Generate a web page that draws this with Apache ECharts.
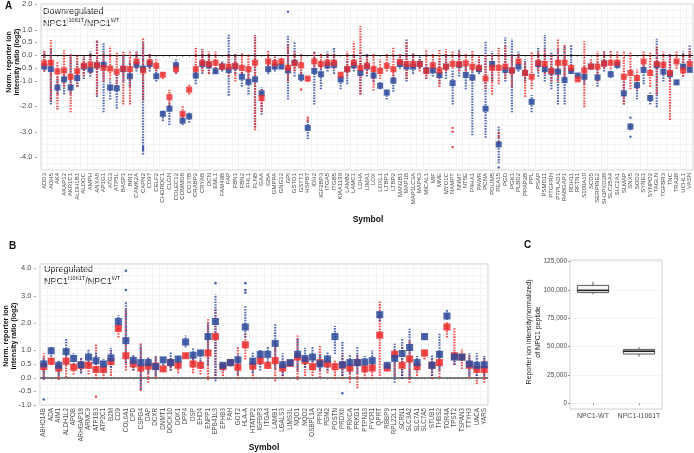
<!DOCTYPE html>
<html><head><meta charset="utf-8">
<script src="https://cdn.jsdelivr.net/npm/echarts@6/dist/echarts.min.js"></script>
<style>html,body{margin:0;padding:0;background:#fff}#c{width:694px;height:453px}</style>
</head><body><div id="c"></div>
<script>
// ---------- Panel A: downregulated ----------
const catsA = ['ADD3','ADH5','AK4','AKAP12','AKR1C1','ALDH1B1','ALDOC','AMPH','ANXA5','AP1G1','ATG3','ATP5L','BASP1','BIN1','CAMK2A','CAPN2','CD97','CELF2','CHORDC1','CLGN','COLEC12','COMMD8','COX7B','CRABP2','CRYAB','DCN','EML1','FAM49B','FAP','FBN1','FBN2','FHL1','FLNB','GAA','GBA','GMPPA','GNG12','GPI','GSTO1','GSTT1','HSPB7','IDH2','IGF2BP3','ITGA5','ITGB5','KIAA1199','LAMB2','LAMC1','LDHA','LIMA1','LOX','LOXL1','LTBP1','LTBP2','MAN2B1','MAP1B','MAP1LC3A','MAPK3','MICAL1','MIF','MME','MYO1C','NAMPT','NNMT','NT5E','P4HA1','PAWR','PCNA','PDLIM5','PEA15','PGD','PGK1','PLBD2','PPAP2B','PPL','PSAP','PSMD11','PTGFRN','PTPLAD1','RABGAP1','RDH11','RFTN1','S100A10','SCD5','SERPINE2','SH3PXD2B','SLC25A4','SLC2A1','SLMAP','SNX5','SOD2','SYNE1','SYNPO2','TAGLN','TGFBR3','TNC','TRA2B','UCHL1','VASN'];
const blueMedA = [-0.45,-0.55,-1.27,-0.95,-1.27,-0.9,-0.45,-0.57,-0.4,-0.38,-1.27,-1.3,-0.55,-0.83,-0.38,-0.53,-0.35,-0.83,-2.3,-2.1,-0.4,-2.57,-2.4,-0.8,-0.35,-0.4,-0.63,-0.45,-0.58,-0.45,-0.85,-1.05,-0.95,-1.5,-0.55,-0.45,-0.45,-0.6,-0.3,-0.87,-2.85,-0.62,-0.75,-0.4,-0.38,-0.95,-0.55,-0.4,-0.7,-0.45,-0.8,-1.2,-1.47,-1.0,-0.35,-0.45,-0.45,-0.35,-0.6,-0.6,-0.78,-0.45,-1.1,-0.38,-0.78,-0.88,-0.55,-2.1,-0.35,-3.5,-0.58,-0.6,-0.45,-0.7,-1.83,-0.35,-0.55,-0.65,-0.65,-0.98,-0.62,-0.8,-0.85,-0.45,-0.88,-0.33,-0.75,-0.38,-1.5,-2.8,-1.18,-0.58,-1.68,-0.4,-0.65,-0.75,-1.07,-0.45,-0.58];
const redMedA = [-0.32,-0.3,-0.64,-0.6,-0.85,-0.63,-0.42,-0.37,-0.4,-0.5,-0.53,-0.65,-0.53,-0.55,-0.25,-0.6,-0.28,-0.42,-0.77,-1.65,-0.55,-2.3,-1.35,-0.55,-0.3,-0.35,-0.3,-0.45,-0.45,-0.42,-0.5,-0.55,-0.3,-1.68,-0.25,-0.32,-0.25,-0.5,-0.32,-0.4,-0.92,-0.25,-0.35,-0.3,-0.3,-0.77,-0.55,-0.3,-0.5,-0.42,-0.55,-0.62,-0.42,-0.55,-0.27,-0.35,-0.35,-0.35,-0.62,-0.4,-0.6,-0.45,-0.35,-0.35,-0.32,-0.45,-0.5,-0.92,-0.5,-0.5,-0.45,-0.6,-0.25,-0.7,-0.85,-0.3,-0.35,-0.62,-0.3,-0.3,-0.5,-0.95,-0.6,-0.45,-0.45,-0.33,-0.3,-0.3,-0.85,-0.7,-0.9,-0.25,-0.7,-0.35,-0.38,-0.7,-0.25,-0.6,-0.35];
const blueLoA = [-0.6,-1.9,-1.5,-1.5,-1.5,-1.2,-0.9,-0.8,-1.6,-2.2,-1.7,-2.05,-1.0,-1.2,-0.6,-3.85,-0.6,-1.0,-2.55,-2.7,-0.7,-2.7,-2.6,-1.1,-0.7,-0.7,-0.7,-0.6,-1.55,-0.7,-1.2,-1.5,-2.8,-2.3,-0.7,-0.6,-0.5,-1.7,-0.8,-1.0,-3.25,-1.9,-1.3,-0.6,-0.7,-1.3,-1.1,-0.6,-1.5,-0.8,-1.0,-1.3,-1.7,-1.4,-0.5,-1.0,-0.7,-0.5,-0.9,-0.8,-1.1,-0.9,-1.9,-0.8,-1.3,-3.1,-0.7,-3.2,-1.0,-4.2,-1.0,-2.2,-0.6,-1.0,-2.2,-0.8,-1.0,-1.3,-1.9,-1.9,-0.7,-0.9,-1.1,-0.5,-1.2,-0.6,-0.85,-0.5,-1.9,-2.9,-1.7,-1.1,-1.9,-2.0,-1.0,-1.0,-1.1,-0.8,-0.6];
const blueHiA = [0.1,0.2,-0.9,-0.6,0.0,-0.3,-0.1,0.1,0.55,0.45,-1.0,-0.7,0.0,-0.3,0.1,0.45,0.0,-0.6,-2.2,-1.9,-0.2,-2.4,-2.3,-0.6,0.2,0.0,-0.5,-0.3,0.8,0.0,-0.7,-0.6,0.75,-1.3,-0.1,-0.2,-0.3,0.75,0.5,-0.6,-2.6,0.1,-0.2,0.1,0.25,-0.9,-0.2,0.0,0.1,0.0,-0.5,-1.1,-1.4,-0.8,-0.1,0.6,0.05,-0.1,-0.4,-0.3,-0.2,0.0,-0.6,0.2,-0.4,-0.5,-0.2,0.5,0.1,-2.8,0.65,0.6,0.1,-0.2,-1.6,0.3,0.75,0.05,0.2,0.3,0.35,-0.75,-0.5,-0.4,-0.3,0.1,-0.6,-0.3,-1.0,-2.7,-0.9,-0.4,-1.5,0.6,-0.3,0.0,-1.0,0.1,0.35];
const redLoA = [-0.6,-1.75,-2.1,-1.2,-2.2,-1.2,-0.8,-0.7,-1.5,-1.0,-0.9,-1.2,-1.9,-1.9,-0.5,-1.7,-0.5,-0.6,-0.9,-2.0,-0.7,-2.45,-1.5,-0.8,-0.6,-0.7,-0.6,-0.55,-0.8,-1.0,-0.7,-1.0,-2.9,-2.2,-0.6,-0.5,-0.35,-1.0,-0.6,-0.7,-1.0,-0.55,-0.5,-0.5,-0.5,-0.85,-0.8,-0.5,-1.5,-0.7,-1.35,-0.9,-0.6,-0.9,-0.4,-0.9,-0.5,-0.6,-0.9,-0.6,-1.2,-0.6,-0.5,-0.6,-0.6,-0.6,-0.6,-1.3,-1.5,-1.1,-0.9,-1.2,-0.4,-1.6,-1.3,-0.6,-0.7,-1.0,-1.0,-0.9,-0.6,-1.0,-2.0,-0.5,-1.0,-0.5,-0.5,-0.4,-1.9,-1.3,-1.3,-0.5,-1.2,-1.5,-0.7,-2.5,-0.5,-0.8,-0.6];
const redHiA = [0.15,0.55,-0.3,0.15,0.05,0.0,-0.1,0.0,0.55,0.1,0.3,0.1,0.1,0.15,0.1,0.65,0.0,-0.2,-0.7,-1.4,-0.4,-2.0,-1.2,0.3,0.2,0.1,0.1,-0.3,0.0,0.0,0.05,0.0,0.75,-1.4,0.15,-0.1,-0.15,0.4,0.1,0.0,-0.9,0.1,0.05,0.0,0.0,-0.7,0.1,0.5,1.1,-0.1,0.0,-0.2,0.0,0.25,0.0,0.5,0.0,-0.2,0.2,0.0,0.2,0.2,0.1,0.1,0.0,0.15,-0.1,0.0,0.0,0.25,0.35,0.0,0.0,-0.3,0.1,0.1,0.2,0.0,0.6,0.4,-0.4,-0.9,0.5,-0.2,0.1,0.1,0.15,0.1,0.15,0.1,-0.6,0.1,0.1,0.3,0.1,0.0,0.1,0.0,0.2];
const blueOutA = [['GPI',1.7],['CAPN2',-3.6],['CAPN2',-3.7],['SNX5',-2.45],['SNX5',-3.2],['PEA15',-4.4]];
const redOutA = [['GSTT1',-1.35],['HSPB7',-2.45],['HSPB7',-2.55],['NAMPT',-2.85],['NAMPT',-3.0],['NAMPT',-3.6],['PEA15',-3.05],['PEA15',-3.2],['PEA15',-3.4]];
const labelsA = [2,1,0.5,0,-0.5,-1,-2,-3,-4];

// ---------- Panel B: upregulated ----------
const catsB = ['ABHD14B','ADA','AIM1','ALDH1L2','APOB','ARHGAP18','ARMC9','ATP1B3','ATP2C1','B2M','CD9','COL6A1','CPD','CSPG4','DAP','DCXR','DNMT1','DOCK10','DOK1','DPP4','DSP','EHD4','ENPP1','EPB41L3','EPHB3','FAH','GOT2','HLA-A','HTATIP2','IGFBP3','ITGA4','LAMB1','LGALS3','LIMS3L','NQO1','NQO2','OSBPL1A','PFN2','PGM2','POSTN','PRDX6','PRKCA','PRKG1','PTPN13','PYCR1','QPRT','RBBP9','RPL22L1','SCRN1','SLC3A2','SLC7A1','SLC7A5','STUB1','THBS2','TOR4A','TPST2','TSPAN3','TTYH3','UACA','YARS'];
const blueMedB = [0.5,0.98,0.45,0.95,0.7,0.47,0.75,0.62,0.5,0.72,2.05,1.35,0.63,0.55,0.55,0.4,0.65,0.55,0.68,1.3,0.82,0.9,1.5,2.05,0.45,0.55,0.65,1.85,0.6,0.85,0.85,1.25,0.47,0.55,0.85,0.7,0.75,0.5,0.68,1.5,0.47,0.55,0.55,0.57,0.62,2.3,0.45,0.7,0.88,1.1,0.55,1.5,0.45,0.85,2.25,0.75,0.75,0.5,0.45,0.47];
const redMedB = [0.4,0.6,0.35,0.6,0.38,0.45,0.45,0.3,0.3,0.58,1.8,0.8,0.5,0.35,0.42,0.42,0.32,0.55,0.45,0.8,0.5,0.45,0.9,1.5,0.4,0.55,0.38,1.2,0.42,0.62,0.45,0.62,0.35,0.52,0.75,0.62,0.4,0.55,0.5,0.4,0.45,0.35,0.55,0.32,0.35,1.55,0.35,0.85,0.45,0.68,0.4,0.9,0.45,0.55,1.85,0.8,0.75,0.45,0.3,0.3];
const blueLoB = [-0.05,0.8,0.1,0.5,0.5,0.2,0.5,0.3,0.2,0.4,1.8,0.55,0.3,-0.4,0.2,0.1,0.5,0.3,0.4,1.15,0.55,0.6,0.5,-0.1,0.3,0.45,0.15,1.5,0.2,0.3,0.6,0.35,0.1,0.45,0.3,0.4,0.6,0.3,0.3,0.9,0.1,0.2,0.2,0.3,0.3,2.1,0.4,-0.15,0.0,0.0,0.3,1.4,0.1,0.3,2.15,0.5,0.7,0.1,0.0,0.1];
const blueHiB = [0.7,1.1,0.6,1.4,0.85,0.7,1.0,0.9,0.65,1.05,2.25,2.75,0.8,1.15,0.7,0.75,0.7,0.9,0.75,1.5,1.05,1.0,1.95,3.0,0.45,0.6,0.8,2.6,0.9,1.0,1.1,1.95,0.85,0.6,1.4,1.05,1.1,0.8,0.9,1.85,1.3,0.8,1.1,0.75,0.95,2.4,0.5,1.2,1.4,1.75,0.75,1.55,0.82,1.6,2.45,0.9,0.8,0.85,0.85,0.75];
const redLoB = [0.0,0.5,-0.05,0.05,0.15,0.2,0.15,0.0,0.0,0.1,1.5,0.3,0.3,-0.45,-0.15,0.05,0.25,0.3,0.2,0.75,0.2,0.15,-0.05,0.0,0.1,0.45,0.0,0.7,0.0,0.5,0.35,-0.1,0.0,0.45,-0.05,0.1,0.1,0.05,0.2,0.0,0.0,-0.15,-0.35,0.0,0.0,0.1,0.3,0.1,0.0,-0.15,0.1,0.7,0.0,0.05,1.5,0.5,0.35,0.05,-0.2,-0.15];
const redHiB = [0.85,0.7,0.5,1.05,0.45,0.7,0.6,1.2,0.5,1.0,2.1,2.5,0.7,1.25,0.7,0.75,0.4,0.7,0.6,0.85,0.75,0.6,2.1,2.45,0.45,0.6,1.1,1.6,0.7,0.8,0.5,1.3,0.6,0.6,1.5,0.7,0.7,1.12,0.7,0.6,0.85,0.6,0.8,0.5,0.7,2.75,0.4,1.0,1.1,1.35,0.6,1.0,0.7,0.9,2.0,1.8,1.0,0.8,0.5,0.7];
const blueOutB = [['ABHD14B',-0.8],['COL6A1',3.9],['COL6A1',3.2],['EPB41L3',3.45],['HLA-A',3.45],['HLA-A',3.2],['HLA-A',3.1],['PRDX6',-0.57]];
const redOutB = [['ATP1B3',-0.7]];
const labelsB = [4,3,2,1,0.5,0,-0.5,-1];

// ---------- Panel C: NPC1 reporter ion intensity ----------
const catsC = ['NPC1-WT','NPC1-I1061T'];
const boxMinC = [96200,41200];
const boxQ1C  = [97700,43500];
const boxMedC = [99700,46000];
const boxQ3C  = [104100,47600];
const boxMaxC = [107300,49400];
const labelsC = [0,25000,50000,75000,100000,125000];

const BLUE = '#2c4a9c', RED = '#ee2a2a';
const FONT = '"Liberation Sans", Arial, Helvetica, sans-serif';
const chart = echarts.init(document.getElementById('c'), null, {renderer:'canvas'});

function rangeRender(color){
  return function(params, api){
    const x = api.value(0);
    const p1 = api.coord([x, api.value(1)]);
    const p2 = api.coord([x, api.value(2)]);
    return {type:'line', shape:{x1:p1[0], y1:p1[1]+1, x2:p2[0], y2:p2[1]-1},
      style:{stroke:color, lineWidth:2.2, lineDash:[1.6,1.1], opacity:0.8}};
  };
}
function rangeData(cats, lo, hi){ return cats.map((c,i)=>[i, lo[i], hi[i]]); }
function medData(cats, v){ return cats.map((c,i)=>[c, v[i]]); }
function isLabel(list, v){ return list.some(t => Math.abs(t - v) < 1e-6); }

const catAxis = (idx, cats, fs) => ({
  type:'category', gridIndex:idx, data:cats, boundaryGap:true,
  axisLine:{show:false},
  axisTick:{show:true, alignWithLabel:true, length:2, lineStyle:{color:'#555', width:0.6}},
  axisLabel:{interval:0, rotate:90, fontSize:fs, color:'#4d4d4d', fontFamily:FONT, margin:3},
  splitLine:{show:true, interval:0, lineStyle:{color:'#ececec', width:0.6}}
});

const option = {
  animation:false,
  backgroundColor:'#fff',
  grid:[
    {left:41, top:3, width:652, height:167, show:true, borderColor:'#c4c4c4', borderWidth:0.8, backgroundColor:'#fff'},
    {left:40, top:264, width:448, height:141, show:true, borderColor:'#c4c4c4', borderWidth:0.8, backgroundColor:'#fff'},
    {left:570, top:260, width:92, height:149, show:true, borderColor:'#c4c4c4', borderWidth:0.8, backgroundColor:'#fff'}
  ],
  xAxis:[
    catAxis(0, catsA, 6),
    catAxis(1, catsB, 6.3),
    {type:'category', gridIndex:2, data:catsC, boundaryGap:true,
      axisLine:{show:false},
      axisTick:{show:true, alignWithLabel:true, length:2, lineStyle:{color:'#555', width:0.6}},
      axisLabel:{interval:0, fontSize:7, color:'#4d4d4d', fontFamily:FONT, margin:4},
      splitLine:{show:false}}
  ],
  yAxis:[
    {type:'value', gridIndex:0, min:-4.5, max:2.0, interval:0.25,
      axisLine:{show:false}, axisTick:{show:false},
      axisLabel:{fontSize:7.5, color:'#4d4d4d', fontFamily:FONT, margin:4, showMinLabel:false,
        formatter:v => isLabel(labelsA, v) ? (v).toFixed(1) + ' -' : ''},
      splitLine:{show:true, lineStyle:{color:'#ececec', width:0.6}}},
    {type:'value', gridIndex:1, min:-1.0, max:4.15, interval:0.25,
      axisLine:{show:false}, axisTick:{show:false},
      axisLabel:{fontSize:7.5, color:'#4d4d4d', fontFamily:FONT, margin:4,
        formatter:v => isLabel(labelsB, v) ? (v).toFixed(1) + ' -' : ''},
      splitLine:{show:true, lineStyle:{color:'#ececec', width:0.6}}},
    {type:'value', gridIndex:2, min:-5000, max:126500,
      axisLine:{show:false},
      axisTick:{show:true, length:2, customValues:labelsC, lineStyle:{color:'#555', width:0.6}},
      axisLabel:{fontSize:6.5, color:'#4d4d4d', fontFamily:FONT, margin:3, customValues:labelsC},
      splitLine:{show:true, lineStyle:{color:'#ececec', width:0.6}}}
  ],
  series:[
    // Panel A
    {type:'custom', xAxisIndex:0, yAxisIndex:0, renderItem:rangeRender(BLUE), data:rangeData(catsA, blueLoA, blueHiA), silent:true, z:2,
      markLine:{silent:true, symbol:'none', label:{show:false}, lineStyle:{color:'#111', width:1, type:'solid'}, data:[{yAxis:0}], z:1}},
    {type:'custom', xAxisIndex:0, yAxisIndex:0, renderItem:rangeRender(RED), data:rangeData(catsA, redLoA, redHiA), silent:true, z:3},
    {type:'scatter', xAxisIndex:0, yAxisIndex:0, data:blueOutA, symbol:'circle', symbolSize:2.4, itemStyle:{color:BLUE, opacity:0.85}, z:3},
    {type:'scatter', xAxisIndex:0, yAxisIndex:0, data:redOutA, symbol:'circle', symbolSize:2.4, itemStyle:{color:RED, opacity:0.85}, z:3},
    {type:'scatter', xAxisIndex:0, yAxisIndex:0, data:medData(catsA, blueMedA), symbol:'rect', symbolSize:6, itemStyle:{color:BLUE, opacity:0.85}, z:4},
    {type:'scatter', xAxisIndex:0, yAxisIndex:0, data:medData(catsA, redMedA), symbol:'rect', symbolSize:6, itemStyle:{color:RED, opacity:0.8}, z:5},
    // Panel B
    {type:'custom', xAxisIndex:1, yAxisIndex:1, renderItem:rangeRender(RED), data:rangeData(catsB, redLoB, redHiB), silent:true, z:2,
      markLine:{silent:true, symbol:'none', label:{show:false}, lineStyle:{color:'#7a7a7a', width:2, type:'solid'}, data:[{yAxis:0}], z:1}},
    {type:'custom', xAxisIndex:1, yAxisIndex:1, renderItem:rangeRender(BLUE), data:rangeData(catsB, blueLoB, blueHiB), silent:true, z:3},
    {type:'scatter', xAxisIndex:1, yAxisIndex:1, data:blueOutB, symbol:'circle', symbolSize:2.6, itemStyle:{color:BLUE, opacity:0.85}, z:3},
    {type:'scatter', xAxisIndex:1, yAxisIndex:1, data:redOutB, symbol:'circle', symbolSize:2.6, itemStyle:{color:RED, opacity:0.85}, z:3},
    {type:'scatter', xAxisIndex:1, yAxisIndex:1, data:medData(catsB, redMedB), symbol:'rect', symbolSize:7, itemStyle:{color:RED, opacity:0.85}, z:4},
    {type:'scatter', xAxisIndex:1, yAxisIndex:1, data:medData(catsB, blueMedB), symbol:'rect', symbolSize:7, itemStyle:{color:BLUE, opacity:0.85}, z:5},
    // Panel C
    {type:'custom', xAxisIndex:2, yAxisIndex:2, silent:true,
      data:catsC.map((c,i)=>[i, boxMinC[i], boxQ1C[i], boxMedC[i], boxQ3C[i], boxMaxC[i]]),
      renderItem:function(params, api){
        const x = api.value(0);
        const lo = api.coord([x, api.value(1)]), q1 = api.coord([x, api.value(2)]),
              md = api.coord([x, api.value(3)]), q3 = api.coord([x, api.value(4)]), hi = api.coord([x, api.value(5)]);
        const w = api.size([1,0])[0]*0.68;
        const s = {stroke:'#333', lineWidth:0.8};
        return {type:'group', children:[
          {type:'line', shape:{x1:lo[0], y1:lo[1], x2:lo[0], y2:q1[1]}, style:s},
          {type:'line', shape:{x1:hi[0], y1:q3[1], x2:hi[0], y2:hi[1]}, style:s},
          {type:'rect', shape:{x:q1[0]-w/2, y:q3[1], width:w, height:q1[1]-q3[1]}, style:{fill:'#f4f4f4', stroke:'#333', lineWidth:0.8}},
          {type:'line', shape:{x1:md[0]-w/2, y1:md[1], x2:md[0]+w/2, y2:md[1]}, style:{stroke:'#222', lineWidth:1.6}}
        ]};
      }}
  ],
  graphic:[
    {type:'text', x:5, y:1, style:{text:'A', font:'bold 10px '+FONT, fill:'#111'}},
    {type:'text', x:9, y:241, style:{text:'B', font:'bold 10px '+FONT, fill:'#111'}},
    {type:'text', x:524, y:240, style:{text:'C', font:'bold 10px '+FONT, fill:'#111'}},
    {type:'text', x:43, y:7, style:{text:'Downregulated', font:'9px '+FONT, fill:'#222'}},
    {type:'text', x:43, y:17, style:{text:'{a|NPC1}{s|I1061T}{a|/NPC1}{s|WT}', fill:'#222',
      rich:{a:{fontSize:9, fontFamily:FONT, lineHeight:11, verticalAlign:'bottom', fill:'#222'}, s:{fontSize:5.5, fontFamily:FONT, lineHeight:11, verticalAlign:'top', fill:'#222'}}}},
    {type:'text', x:44, y:265, style:{text:'Upregulated', font:'9px '+FONT, fill:'#222'}},
    {type:'text', x:44, y:275, style:{text:'{a|NPC1}{s|I1061T}{a|/NPC1}{s|WT}', fill:'#222',
      rich:{a:{fontSize:9, fontFamily:FONT, lineHeight:11, verticalAlign:'bottom', fill:'#222'}, s:{fontSize:5.5, fontFamily:FONT, lineHeight:11, verticalAlign:'top', fill:'#222'}}}},
    {type:'text', x:13, y:62, rotation:Math.PI/2, style:{text:'Norm. reporter ion\nintensity ratio (log2)', font:'bold 7px '+FONT, lineHeight:7.5, fill:'#111', textAlign:'center', textVerticalAlign:'middle'}},
    {type:'text', x:10, y:336, rotation:Math.PI/2, style:{text:'Norm. reporter ion\nintensity ratio (log2)', font:'bold 7px '+FONT, lineHeight:7.5, fill:'#111', textAlign:'center', textVerticalAlign:'middle'}},
    {type:'text', x:368, y:220, style:{text:'Symbol', font:'bold 8.5px '+FONT, fill:'#111', textAlign:'center', textVerticalAlign:'middle'}},
    {type:'text', x:264, y:448, style:{text:'Symbol', font:'bold 8.5px '+FONT, fill:'#111', textAlign:'center', textVerticalAlign:'middle'}},
    {type:'text', x:534, y:332, rotation:Math.PI/2, style:{text:'Reporter ion intensity(normalized)\nof NPC1 peptide', font:'7px '+FONT, lineHeight:9, fill:'#222', textAlign:'center', textVerticalAlign:'middle'}}
  ]
};
chart.setOption(option);
</script>
</body></html>
